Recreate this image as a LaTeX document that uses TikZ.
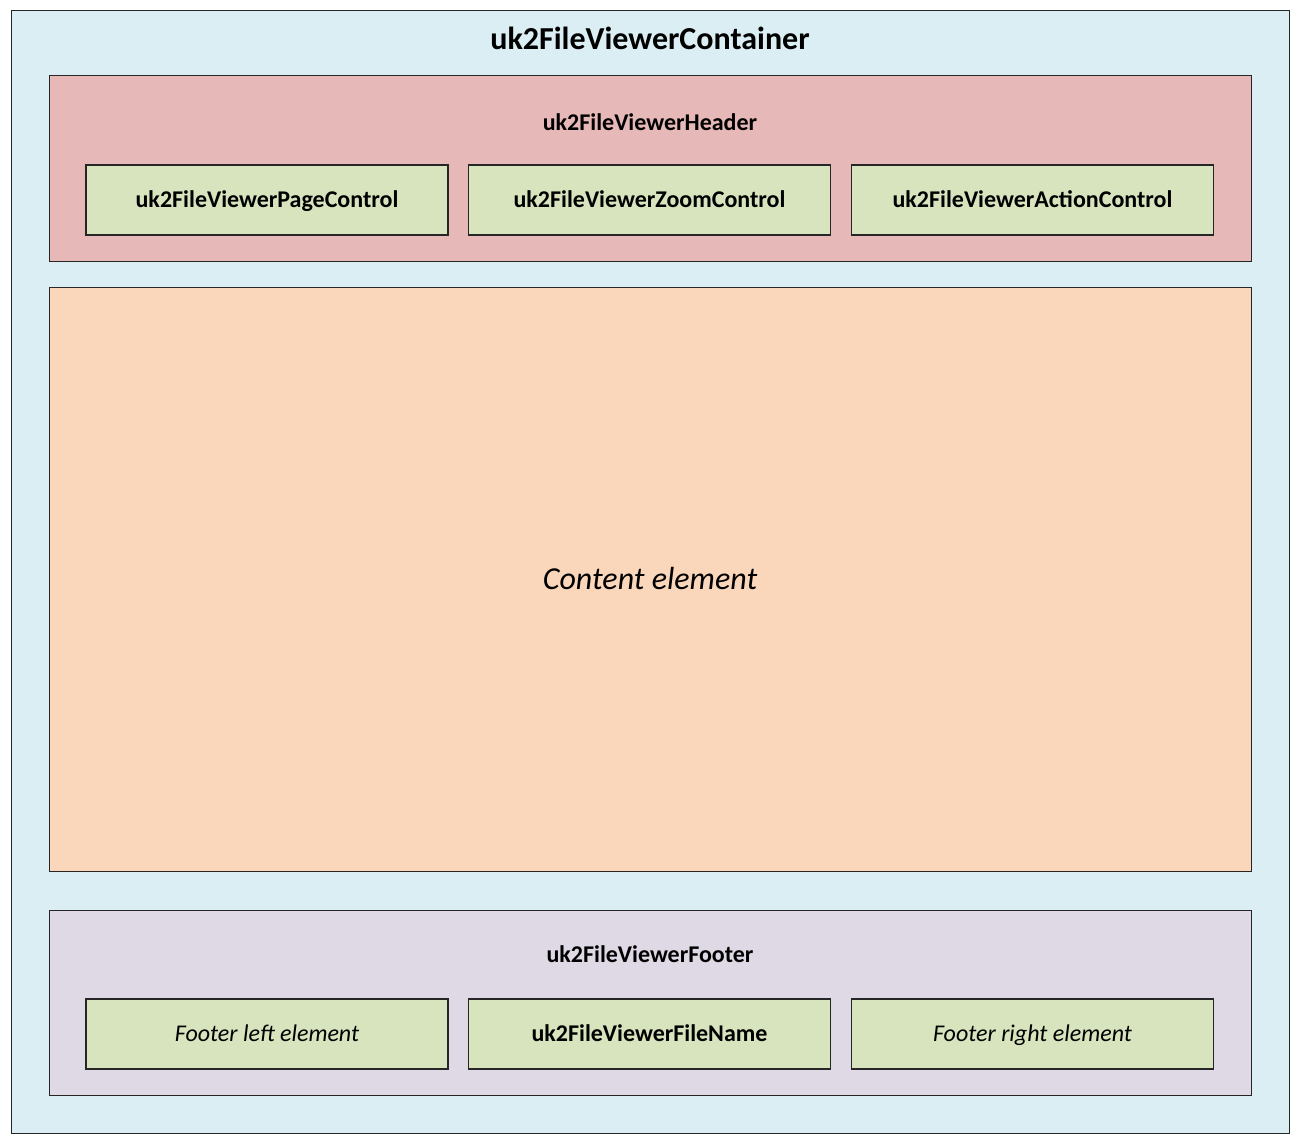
\documentclass[tikz,border=0pt]{standalone}
\usepackage{fontspec}
\setmainfont{Carlito}
\begin{document}
\begin{tikzpicture}[x=1pt,y=-1pt,
  panel/.style={draw=black!85, line width=1.3pt, inner sep=0pt, anchor=north west},
  capc/.style={text height=15.5pt, text depth=0pt},
  capbig/.style={text height=20.6pt, text depth=0pt},
  sub/.style={draw=black!85, line width=1.3pt, fill=subgreen, minimum width=362pt, minimum height=70pt, inner sep=0pt, capc},
  lbl/.style={font=\bfseries\fontsize{24}{28}\selectfont, inner sep=0pt, capc}
]
\definecolor{outerblue}{HTML}{DAEEF3}
\definecolor{headred}{HTML}{E6B8B7}
\definecolor{subgreen}{HTML}{D7E4BD}
\definecolor{contentor}{HTML}{FAD7BB}
\definecolor{footpur}{HTML}{DFD8E5}
\useasboundingbox (0,0) rectangle (1299,1143);
\node[panel, fill=outerblue, minimum width=1278pt, minimum height=1123pt] (cont) at (11,10) {};
\node[font=\bfseries\fontsize{32}{38}\selectfont, inner sep=0pt, capbig] (conttitle) at (650,39) {uk2FileViewerContainer};
% header
\node[panel, fill=headred, minimum width=1202pt, minimum height=186pt] (head) at (49,75) {};
\node[lbl] (headtitle) at (650,123) {uk2FileViewerHeader};
\node[sub, font=\bfseries\fontsize{24}{28}\selectfont] (page) at (267,200) {uk2FileViewerPageControl};
\node[sub, font=\bfseries\fontsize{24}{28}\selectfont] (zoom) at (649.5,200) {uk2FileViewerZoomControl};
\node[sub, font=\bfseries\fontsize{24}{28}\selectfont] (action) at (1032.5,200) {uk2FileViewerActionControl};
% content
\node[panel, fill=contentor, minimum width=1202pt, minimum height=584pt] (content) at (49,287) {};
\node[font=\itshape\fontsize{32}{38}\selectfont, inner sep=0pt, capbig] (contentlbl) at (650,579) {Content element};
% footer
\node[panel, fill=footpur, minimum width=1202pt, minimum height=185pt] (foot) at (49,910) {};
\node[lbl] (foottitle) at (650,955) {uk2FileViewerFooter};
\node[sub, font=\itshape\fontsize{24}{28}\selectfont] (fleft) at (267,1034) {Footer left element};
\node[sub, font=\bfseries\fontsize{24}{28}\selectfont] (fname) at (649.5,1034) {uk2FileViewerFileName};
\node[sub, font=\itshape\fontsize{24}{28}\selectfont] (fright) at (1032.5,1034) {Footer right element};
\end{tikzpicture}
\end{document}
